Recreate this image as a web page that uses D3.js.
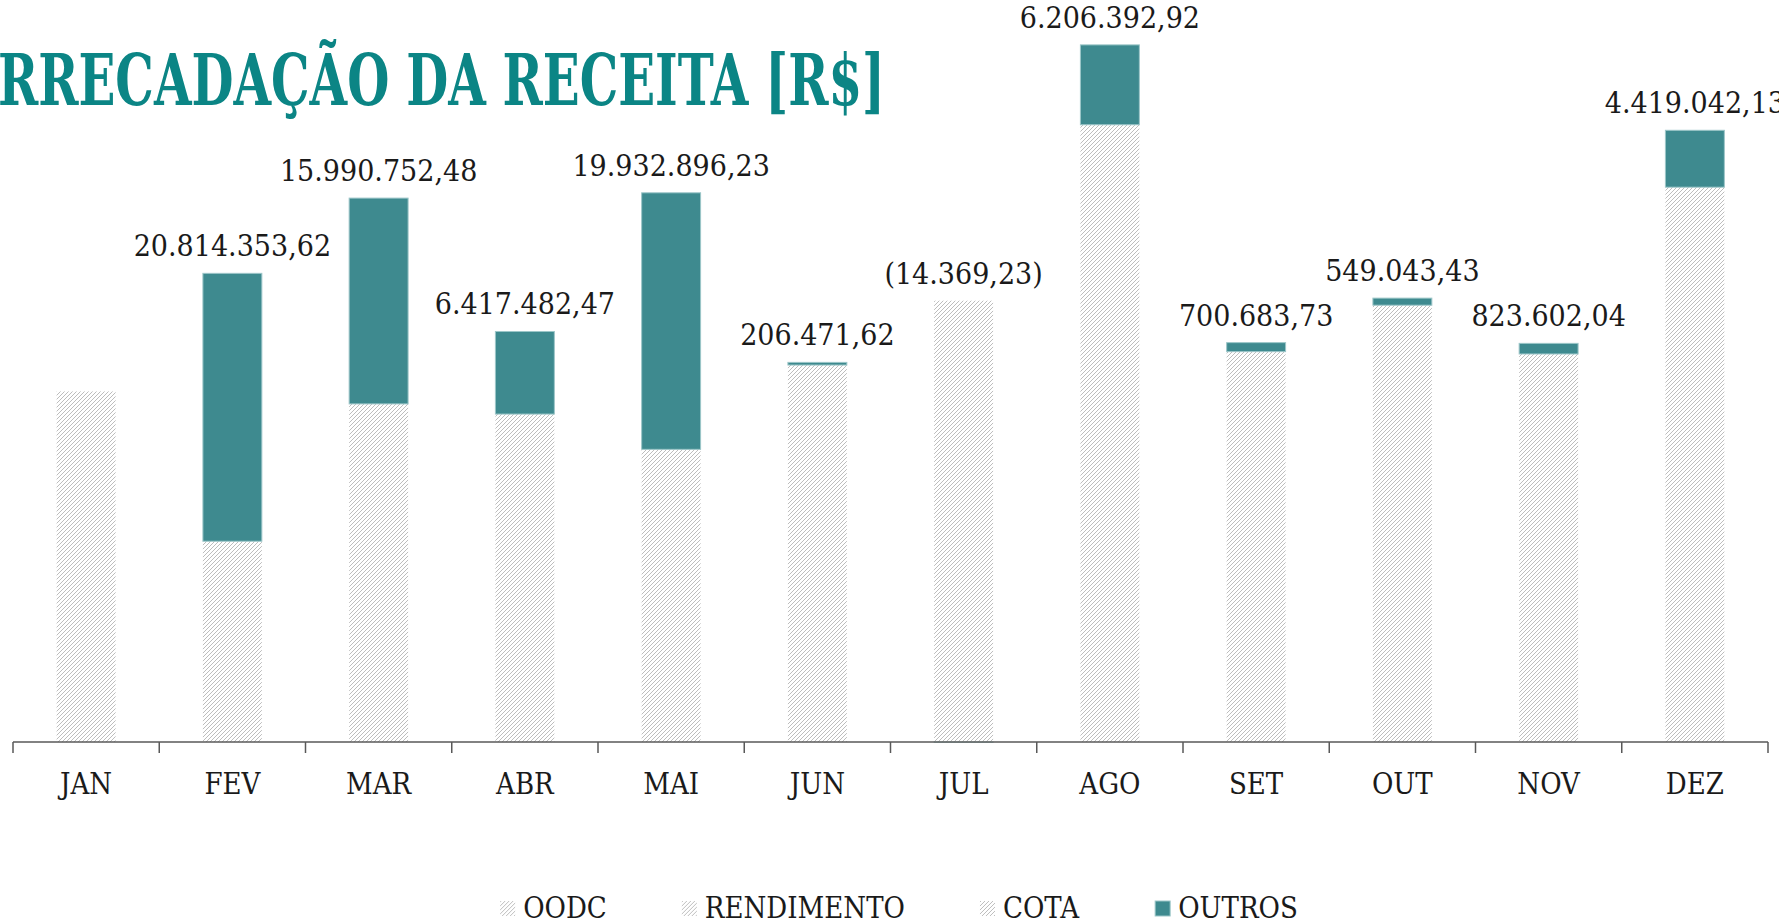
<!DOCTYPE html>
<html>
<head>
<meta charset="utf-8">
<script src="https://cdn.jsdelivr.net/npm/d3@7"></script>
<style>
  body { margin: 0; background: #fff; overflow: hidden; }
  svg { display: block; }
</style>
</head>
<body>
<div id="main"></div>
<script>
// ---------------- data -----------------//

let months = ["JAN", "FEV", "MAR", "ABR", "MAI", "JUN", "JUL", "AGO", "SET", "OUT", "NOV", "DEZ"];

// OODC + RENDIMENTO + COTA share the same hatch, so only their sum can be read
let hatchedTotal = [27240000, 15600000, 26270000, 25480000, 22740000, 29290000,
  34290000, 47960000, 30330000, 33940000, 30150000, 43110000];

// OUTROS (the labelled values)
let outros = [null, 20814353.62, 15990752.48, 6417482.47, 19932896.23, 206471.62,
  -14369.23, 6206392.92, 700683.73, 549043.43, 823602.04, 4419042.13];

let legendNames = ["OODC", "RENDIMENTO", "COTA", "OUTROS"];
let titleText = "ARRECADAÇÃO DA RECEITA [R$]";

// ---------------- formatting vars -----------------//

let width = 1779;
let height = 923;
let baseline = 742;
let teal = "#3e8a8f";
let font = "'DejaVu Serif Condensed', 'DejaVu Serif', serif";

let locale = d3.formatLocale({decimal: ",", thousands: ".", grouping: [3], currency: ["R$", ""]});
let fmt = locale.format(",.2f");
let fmtLabel = v => v < 0 ? "(" + fmt(-v) + ")" : fmt(v);

let svg = d3.select("#main")
  .append("svg")
  .attr("width", width)
  .attr("height", height)
  .style("font-family", font);

let defs = svg.append("defs");
let hatch = defs.append("pattern")
  .attr("id", "hatch")
  .attr("patternUnits", "userSpaceOnUse")
  .attr("width", 4)
  .attr("height", 4);
hatch.append("rect").attr("width", 4).attr("height", 4).attr("fill", "#fff");
hatch.append("path")
  .attr("d", "M-1,1 l2,-2 M0,4 l4,-4 M3,5 l2,-2")
  .attr("stroke", "#bdbdbd")
  .attr("stroke-width", 1);

// ---------------- scales -----------------//

let x = d3.scaleBand()
  .domain(months)
  .range([13, 1768])
  .paddingInner(0.597)
  .paddingOuter(0.2985);

let y = d3.scaleLinear()
  .domain([0, 55000000])
  .range([baseline, baseline - 55000000 / 77700]);

let rows = months.map((m, i) => ({month: m, base: hatchedTotal[i], outros: outros[i] || 0}));
let stacked = d3.stack()
  .keys(["base", "outros"])
  .offset(d3.stackOffsetDiverging)(rows);

// ---------------- title -----------------//

let title = svg.append("text")
  .attr("y", 105)
  .attr("fill", "#0b8585")
  .attr("font-weight", "bold")
  .attr("font-size", 71)
  .text(titleText);

// squeeze the title so the first "R" sits at the left edge and "]" ends at 885
let fullLen = title.node().getComputedTextLength();
let tmp = svg.append("text").attr("font-weight", "bold").attr("font-size", 71).text("A");
let aLen = tmp.node().getComputedTextLength();
tmp.remove();
let s = (885 + 2) / (fullLen - aLen);
title.attr("x", -2 - aLen * s)
  .attr("textLength", fullLen * s)
  .attr("lengthAdjust", "spacingAndGlyphs");

// ---------------- bars -----------------//

svg.selectAll(".series")
  .data(stacked)
  .join("g")
  .attr("class", "series")
  .each(function(layer) {
    d3.select(this).selectAll("rect")
      .data(layer.filter(d => layer.key === "base" || d.data.outros !== 0))
      .join("rect")
      .attr("x", d => x(d.data.month))
      .attr("width", x.bandwidth())
      .attr("y", d => y(Math.max(d[0], d[1])))
      .attr("height", d => Math.abs(y(d[0]) - y(d[1])))
      .attr("fill", layer.key === "base" ? "url(#hatch)" : teal)
      .attr("stroke", layer.key === "base" ? "none" : "#9cc6c8")
      .attr("stroke-width", 1);
  });

// value labels above each stack
svg.selectAll(".value")
  .data(rows.filter(d => d.outros !== 0))
  .join("text")
  .attr("class", "value")
  .attr("x", d => x(d.month) + x.bandwidth() / 2)
  .attr("y", d => y(d.base + Math.max(0, d.outros)) - 17)
  .attr("text-anchor", "middle")
  .attr("font-size", 30)
  .attr("fill", "#1a1a1a")
  .text(d => fmtLabel(d.outros));

// ---------------- axis -----------------//

let axis = svg.append("g")
  .attr("transform", `translate(0, ${baseline})`);

axis.append("line")
  .attr("x1", 13).attr("x2", 1768)
  .attr("stroke", "#595959").attr("stroke-width", 1.5);

axis.selectAll(".tick-mark")
  .data(d3.range(months.length + 1))
  .join("line")
  .attr("class", "tick-mark")
  .attr("x1", i => 13 + i * x.step())
  .attr("x2", i => 13 + i * x.step())
  .attr("y1", 0).attr("y2", 11)
  .attr("stroke", "#595959").attr("stroke-width", 1.5);

axis.selectAll(".month")
  .data(months)
  .join("text")
  .attr("class", "month")
  .attr("x", d => x(d) + x.bandwidth() / 2)
  .attr("y", 52)
  .attr("text-anchor", "middle")
  .attr("font-size", 29)
  .attr("fill", "#1a1a1a")
  .text(d => d);

// ---------------- legend -----------------//

let legend = svg.append("g").attr("transform", "translate(0, 918)");
let items = legend.selectAll(".item")
  .data(legendNames)
  .join("g")
  .attr("class", "item");

items.append("rect")
  .attr("y", -17)
  .attr("width", 15)
  .attr("height", 15)
  .attr("fill", d => d === "OUTROS" ? teal : "url(#hatch)")
  .attr("stroke", d => d === "OUTROS" ? "#9cc6c8" : "none");

items.append("text")
  .attr("x", 23)
  .attr("font-size", 29)
  .attr("fill", "#1a1a1a")
  .text(d => d);

// lay the entries out one after another, centred near the chart middle
let widths = [];
items.each(function() { widths.push(this.getBBox().width); });
let gap = 75;
let total = d3.sum(widths) + gap * (widths.length - 1);
let cursor = 899 - total / 2;
items.attr("transform", (d, i) => {
  let t = `translate(${cursor}, 0)`;
  cursor += widths[i] + gap;
  return t;
});
</script>
</body>
</html>
